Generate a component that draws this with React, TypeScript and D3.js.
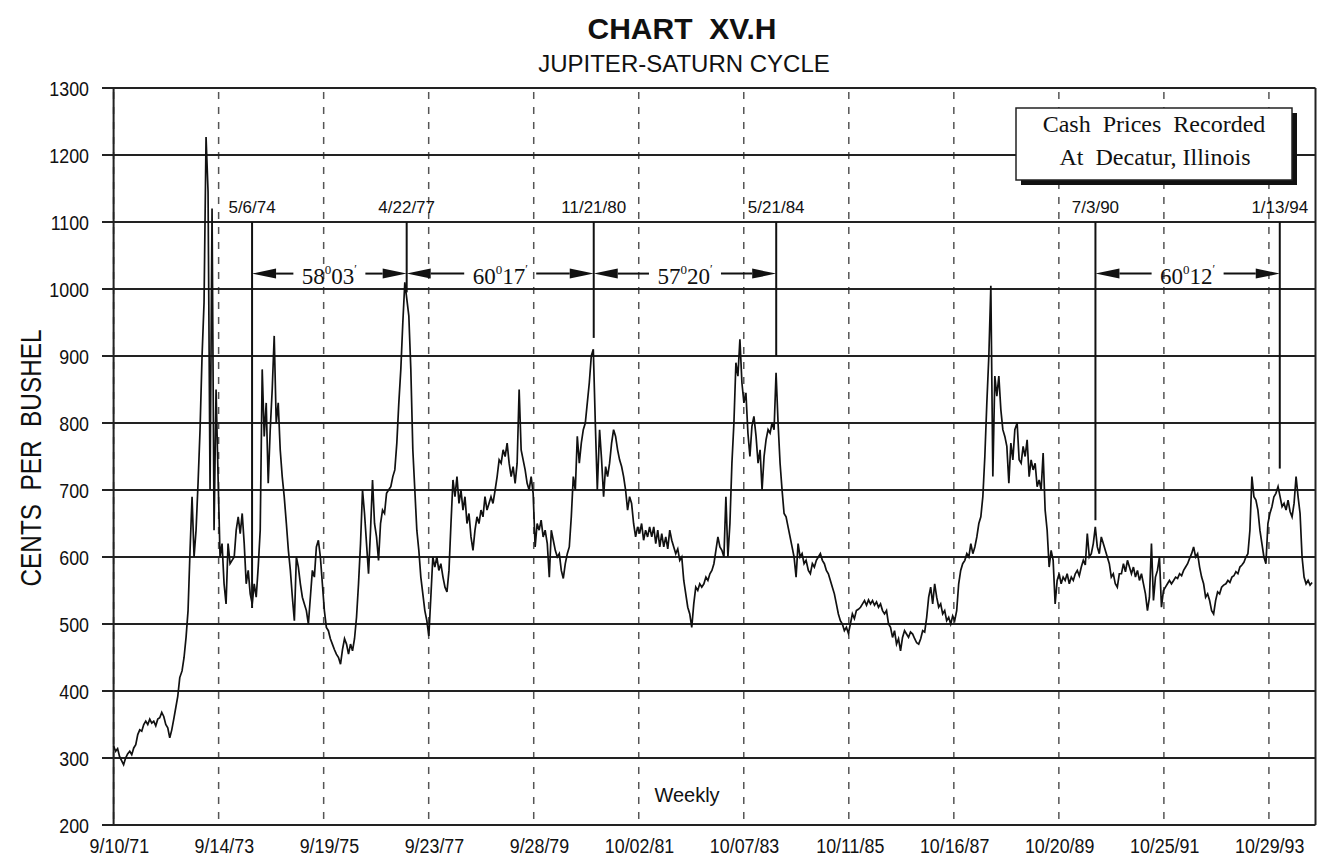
import React from 'react';
import * as d3 from 'd3';

// ---------- data ----------
const yTicks = [200, 300, 400, 500, 600, 700, 800, 900, 1000, 1100, 1200, 1300];
const xTickLabels = ['9/10/71', '9/14/73', '9/19/75', '9/23/77', '9/28/79', '10/02/81', '10/07/83', '10/11/85', '10/16/87', '10/20/89', '10/25/91', '10/29/93'];

// Sampled about every two weeks (from 9/10/71, then from Jan 1 of each year)
const p1971 = [318, 310, 314, 302, 296, 290, 300, 306];
const p1972 = [310, 305, 315, 320, 335, 342, 340, 350, 355, 350, 358, 352, 355, 348, 358, 360, 368, 362, 350, 345, 330, 342, 358, 375, 392, 420];
const p1973 = [430, 450, 480, 520, 610, 690, 600, 640, 710, 790, 900, 980, 1227, 1145, 700, 1120, 640, 850, 720, 600, 620, 560, 530, 620, 590, 595];
const p1974 = [600, 640, 660, 635, 665, 620, 560, 580, 545, 530, 560, 540, 585, 640, 880, 780, 830, 710, 790, 850, 930, 800, 830, 760, 720, 690];
const p1975 = [650, 610, 580, 540, 505, 600, 585, 560, 540, 530, 520, 500, 540, 580, 570, 615, 625, 600, 560, 520, 495, 490, 478, 470, 462, 455];
const p1976 = [450, 440, 462, 478, 470, 455, 470, 460, 478, 510, 560, 620, 700, 665, 620, 575, 640, 715, 650, 630, 595, 650, 670, 665, 695, 700];
const p1977 = [705, 720, 730, 770, 830, 880, 950, 1010, 985, 960, 880, 760, 700, 640, 610, 570, 545, 520, 505, 482, 540, 600, 585, 600, 580, 590];
const p1978 = [570, 555, 548, 580, 650, 715, 690, 720, 680, 700, 670, 690, 650, 665, 630, 610, 640, 660, 650, 670, 660, 690, 670, 680, 690, 680];
const p1979 = [700, 720, 745, 740, 760, 750, 770, 740, 720, 735, 710, 740, 850, 760, 745, 730, 710, 700, 720, 695, 615, 650, 640, 655, 630, 640];
const p1980 = [620, 570, 640, 625, 610, 600, 605, 580, 568, 590, 605, 615, 660, 720, 700, 780, 740, 770, 790, 800, 830, 860, 900, 910, 800, 700];
const p1981 = [790, 745, 690, 735, 720, 740, 770, 790, 780, 760, 745, 735, 720, 700, 670, 690, 680, 650, 630, 645, 635, 650, 625, 640, 630, 645];
const p1982 = [630, 645, 620, 640, 615, 635, 615, 630, 612, 640, 625, 615, 605, 612, 595, 600, 565, 545, 525, 515, 495, 530, 555, 550, 560, 555];
const p1983 = [560, 570, 565, 575, 580, 590, 610, 630, 615, 610, 600, 690, 600, 650, 740, 800, 890, 870, 925, 860, 830, 845, 785, 750, 795, 810];
const p1984 = [780, 740, 760, 700, 750, 775, 790, 785, 800, 790, 875, 800, 740, 700, 665, 660, 645, 630, 615, 600, 570, 620, 600, 605, 590, 595];
const p1985 = [580, 575, 590, 585, 595, 600, 605, 595, 590, 580, 575, 565, 555, 545, 530, 515, 505, 500, 490, 495, 486, 500, 515, 508, 520, 522];
const p1986 = [525, 530, 535, 528, 536, 530, 535, 528, 533, 525, 530, 520, 515, 520, 500, 495, 480, 490, 470, 478, 460, 480, 490, 485, 480, 488];
const p1987 = [485, 478, 472, 470, 478, 490, 488, 510, 540, 555, 530, 560, 540, 525, 530, 515, 520, 505, 510, 500, 512, 505, 520, 560, 580, 590];
const p1988 = [595, 605, 600, 620, 605, 615, 630, 650, 660, 690, 750, 830, 900, 1005, 720, 870, 840, 870, 820, 790, 780, 765, 710, 770, 745, 790];
const p1989 = [800, 745, 740, 765, 750, 775, 720, 745, 730, 740, 705, 715, 700, 755, 670, 640, 585, 610, 595, 530, 565, 575, 560, 570, 565, 575];
const p1990 = [560, 570, 565, 575, 580, 572, 585, 595, 588, 635, 600, 605, 620, 645, 615, 605, 630, 620, 610, 600, 590, 570, 575, 560, 555, 575];
const p1991 = [575, 590, 578, 595, 585, 575, 585, 570, 580, 565, 575, 560, 545, 520, 540, 620, 535, 570, 580, 600, 525, 550, 555, 560, 565, 560];
const p1992 = [565, 570, 568, 575, 572, 580, 585, 590, 598, 605, 615, 600, 605, 585, 570, 560, 540, 545, 535, 520, 515, 535, 548, 545, 555, 558];
const p1993 = [560, 565, 562, 570, 572, 578, 575, 585, 588, 592, 600, 605, 640, 720, 690, 685, 670, 640, 620, 600, 590, 650, 665, 675, 690, 695];
const p1994 = [705, 690, 675, 680, 670, 685, 668, 660, 680, 720, 690, 665, 600, 570, 560, 565, 558, 562];

const markerLabels = ['5/6/74', '4/22/77', '11/21/80', '5/21/84', '7/3/90', '1/13/94'];
const markerLows = [524, 995, 927, 900, 655, 732];
const arcFrom = [0, 1, 2, 4];
const arcTo = [1, 2, 3, 5];
const arcDeg = ['58', '60', '57', '60'];
const arcMin = ['03', '17', '20', '12'];

const SANS = "'Liberation Sans', Arial, Helvetica, sans-serif";
const SERIF = "'Liberation Serif', 'Times New Roman', serif";

export default function App() {
  const parse = d3.timeParse('%m/%d/%y');
  const x = d3.scaleTime()
    .domain([new Date(1971, 8, 10), new Date(1994, 8, 20)])
    .range([113.6, 1315.5]);
  const y = d3.scaleLinear().domain([200, 1300]).range([825, 88]);

  const series: { date: Date; v: number }[] = [];
  p1971.forEach((v, k) => series.push({ date: d3.timeDay.offset(new Date(1971, 8, 10), 14 * k), v }));
  const years: [number, number[]][] = [
    [1972, p1972], [1973, p1973], [1974, p1974], [1975, p1975], [1976, p1976], [1977, p1977],
    [1978, p1978], [1979, p1979], [1980, p1980], [1981, p1981], [1982, p1982], [1983, p1983],
    [1984, p1984], [1985, p1985], [1986, p1986], [1987, p1987], [1988, p1988], [1989, p1989],
    [1990, p1990], [1991, p1991], [1992, p1992], [1993, p1993], [1994, p1994],
  ];
  years.forEach(([yr, arr]) =>
    arr.forEach((v, k) => series.push({ date: d3.timeDay.offset(new Date(yr, 0, 1), 14 * k), v }))
  );

  const line = d3.line<{ date: Date; v: number }>()
    .x((d) => x(d.date))
    .y((d) => y(d.v));

  const [x0, x1] = x.range();
  const yTop = y(1300);
  const yBot = y(200);
  const tickXs = xTickLabels.map((s) => x(parse(s) as Date));
  const markerXs = markerLabels.map((s) => x(parse(s) as Date));
  const arrowY = y(1023);
  const headL = 24;
  const headW = 5;

  return (
    <svg width={1318} height={856} style={{ position: 'absolute', left: 0, top: 0, background: '#fff' }}>
      <rect x={0} y={0} width={1318} height={856} fill="#fff" />
      {/* title */}
      <text x={682} y={38.5} textAnchor="middle" fontFamily={SANS} fontWeight="bold" fontSize={30} fill="#111" style={{ whiteSpace: 'pre' }}>
        {'CHART  XV.H'}
      </text>
      <text x={684} y={71.5} textAnchor="middle" fontFamily={SANS} fontSize={24} fill="#111">
        JUPITER-SATURN CYCLE
      </text>

      {/* dashed verticals */}
      {tickXs.map((tx, i) => (
        <line key={'d' + i} x1={tx} x2={tx} y1={yTop + 4} y2={yBot} stroke="#555" strokeWidth={1.5} strokeDasharray="7 8" />
      ))}

      {/* horizontal gridlines */}
      {yTicks.map((t) => (
        <line key={'g' + t} x1={102} x2={x1} y1={y(t)} y2={y(t)} stroke="#222" strokeWidth={1.9} />
      ))}
      {yTicks.map((t) => (
        <text key={'yl' + t} transform={`translate(89,${y(t) + 7.5}) scale(0.85,1)`} textAnchor="end" fontFamily={SANS} fontSize={21} fill="#111">
          {t}
        </text>
      ))}
      {/* frame */}
      <line x1={x0} x2={x0} y1={yTop} y2={yBot} stroke="#222" strokeWidth={2} />
      <line x1={x1} x2={x1} y1={yTop} y2={yBot} stroke="#222" strokeWidth={2} />

      {/* x tick labels */}
      {xTickLabels.map((s, i) => (
        <text key={'xl' + i} transform={`translate(${tickXs[i] + 35.5},853) scale(0.85,1)`} textAnchor="end" fontFamily={SANS} fontSize={21} fill="#111">
          {s}
        </text>
      ))}

      {/* y axis title */}
      <text transform="translate(41,458) rotate(-90)" textAnchor="middle" fontFamily={SANS} fontSize={29} fill="#111" textLength={257} lengthAdjust="spacingAndGlyphs" style={{ whiteSpace: 'pre' }}>
        {'CENTS  PER  BUSHEL'}
      </text>

      <text x={687} y={802} textAnchor="middle" fontFamily={SANS} fontSize={20} fill="#111">
        Weekly
      </text>

      {/* price line */}
      <path d={line(series) || ''} fill="none" stroke="#111" strokeWidth={1.7} strokeLinejoin="miter" />

      {/* marker lines */}
      {markerXs.map((mx, i) => (
        <g key={'m' + i}>
          <line x1={mx} x2={mx} y1={y(1100)} y2={y(markerLows[i])} stroke="#111" strokeWidth={2} />
          <text x={mx} y={213} textAnchor="middle" fontFamily={SANS} fontSize={17} fill="#111">
            {markerLabels[i]}
          </text>
        </g>
      ))}

      {/* arc arrows */}
      {arcFrom.map((fi, i) => {
        const a = markerXs[fi];
        const b = markerXs[arcTo[i]];
        const mid = (a + b) / 2;
        return (
          <g key={'a' + i}>
            <path d={`M${a},${arrowY}L${a + headL},${arrowY - headW}L${a + headL},${arrowY + headW}Z`} fill="#111" />
            <path d={`M${b},${arrowY}L${b - headL},${arrowY - headW}L${b - headL},${arrowY + headW}Z`} fill="#111" />
            <line x1={a + headL} x2={mid - 36} y1={arrowY} y2={arrowY} stroke="#111" strokeWidth={2} />
            <line x1={mid + 36} x2={b - headL} y1={arrowY} y2={arrowY} stroke="#111" strokeWidth={2} />
            <text x={mid} y={arrowY + 10} textAnchor="middle" fontFamily={SERIF} fontSize={23} fill="#111">
              {arcDeg[i]}
              <tspan fontSize={13} dy={-10}>0</tspan>
              <tspan fontSize={23} dy={10}>{arcMin[i]}</tspan>
              <tspan fontSize={12} dy={-11}>{'\u2032'}</tspan>
            </text>
          </g>
        );
      })}

      {/* legend box */}
      <rect x={1021} y={113} width={276} height={72} fill="#111" />
      <rect x={1016} y={108} width={276} height={72} fill="#fff" stroke="#222" strokeWidth={1.5} />
      <text x={1154} y={131.5} textAnchor="middle" fontFamily={SERIF} fontSize={24} fill="#111" style={{ whiteSpace: 'pre' }}>
        {'Cash  Prices  Recorded'}
      </text>
      <text x={1155} y={165} textAnchor="middle" fontFamily={SERIF} fontSize={24} fill="#111" style={{ whiteSpace: 'pre' }}>
        {'At  Decatur, Illinois'}
      </text>
    </svg>
  );
}
